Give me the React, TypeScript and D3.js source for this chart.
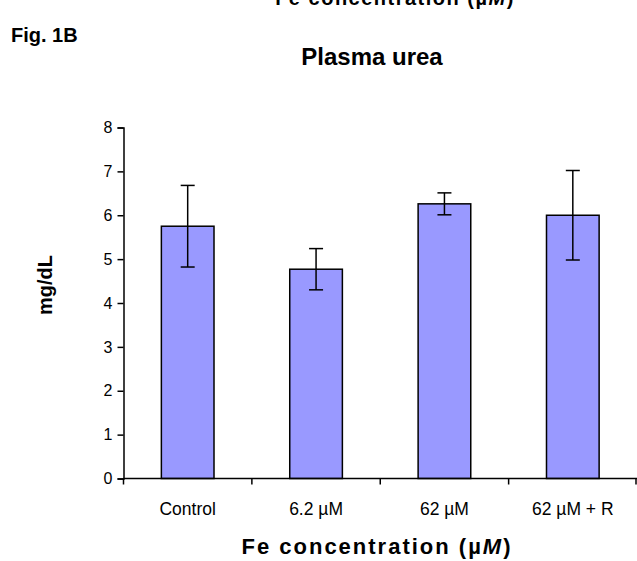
import React, { useEffect, useRef } from "react";
import * as d3 from "d3";

const categories = ["Control", "6.2 µM", "62 µM", "62 µM + R"];
const means = [5.75, 4.77, 6.26, 6.0];
const errors = [0.93, 0.47, 0.25, 1.02];
const yTicks = [0, 1, 2, 3, 4, 5, 6, 7, 8];

const W = 637;
const H = 561;

export default function App() {
  const ref = useRef<SVGSVGElement>(null);

  useEffect(() => {
    const svg = d3.select(ref.current);
    svg.selectAll("*").remove();

    const left = 123.5,
      right = 637,
      top = 127.5,
      bottom = 478.5;

    const x = d3.scaleBand().domain(categories).range([left, right]).paddingInner(0.59).paddingOuter(0.295);
    const xb = d3.scaleBand().domain(categories).range([left, right]);
    const y = d3.scaleLinear().domain([0, 8]).range([bottom, top]);

    const font = "'Liberation Sans', Arial, sans-serif";

    // cut-off label from the panel above
    svg
      .append("text")
      .attr("x", 395)
      .attr("y", 5)
      .attr("text-anchor", "middle")
      .style("font-family", font)
      .style("font-weight", "bold")
      .style("font-size", "20px")
      .style("letter-spacing", "1.5px")
      .html("Fe concentration (µ<tspan font-style='italic'>M</tspan>)");

    svg
      .append("text")
      .attr("x", 11)
      .attr("y", 42)
      .style("font-family", font)
      .style("font-weight", "bold")
      .style("font-size", "20px")
      .text("Fig. 1B");

    svg
      .append("text")
      .attr("x", 372)
      .attr("y", 65)
      .attr("text-anchor", "middle")
      .style("font-family", font)
      .style("font-weight", "bold")
      .style("font-size", "24px")
      .text("Plasma urea");

    // bars
    svg
      .selectAll(".bar")
      .data(means)
      .join("rect")
      .attr("class", "bar")
      .attr("x", (d, i) => x(categories[i])!)
      .attr("y", (d) => y(d))
      .attr("width", x.bandwidth())
      .attr("height", (d) => y(0) - y(d))
      .style("fill", "#9999ff")
      .style("stroke", "#000")
      .style("stroke-width", 1.5);

    // error bars
    const eg = svg.append("g").style("stroke", "#000").style("stroke-width", 1.5);
    means.forEach((m, i) => {
      const cx = x(categories[i])! + x.bandwidth() / 2;
      eg.append("line").attr("x1", cx).attr("x2", cx).attr("y1", y(m - errors[i])).attr("y2", y(m + errors[i]));
      [m - errors[i], m + errors[i]].forEach((v) => {
        eg.append("line").attr("x1", cx - 7).attr("x2", cx + 7).attr("y1", y(v)).attr("y2", y(v));
      });
    });

    // y axis
    const yAxis = svg
      .append("g")
      .attr("transform", `translate(${left},0)`)
      .call(d3.axisLeft(y).tickValues(yTicks).tickSize(6).tickPadding(5));
    yAxis.select(".domain").attr("stroke-width", 1.5);
    yAxis.selectAll(".tick line").attr("stroke-width", 1.5);
    yAxis.selectAll("text").style("font-family", font).style("font-size", "16px").attr("fill", "#000");

    // x axis
    const xAxisG = svg.append("g").attr("transform", `translate(0,${bottom})`);
    xAxisG
      .append("line")
      .attr("x1", left)
      .attr("x2", right)
      .attr("stroke", "#000")
      .attr("stroke-width", 1.5);
    const bounds = categories.map((c) => xb(c)!).concat([right - 1]);
    xAxisG
      .selectAll(".xt")
      .data(bounds)
      .join("line")
      .attr("x1", (d) => d)
      .attr("x2", (d) => d)
      .attr("y1", 0)
      .attr("y2", 6)
      .attr("stroke", "#000")
      .attr("stroke-width", 1.5);
    xAxisG
      .selectAll(".xl")
      .data(categories)
      .join("text")
      .attr("x", (d) => xb(d)! + xb.bandwidth() / 2)
      .attr("y", 36)
      .attr("text-anchor", "middle")
      .style("font-family", font)
      .style("font-size", "17.5px")
      .text((d) => d);

    // axis titles
    svg
      .append("text")
      .attr("transform", `translate(52,285) rotate(-90)`)
      .attr("text-anchor", "middle")
      .style("font-family", font)
      .style("font-weight", "bold")
      .style("font-size", "20px")
      .text("mg/dL");

    svg
      .append("text")
      .attr("x", 377)
      .attr("y", 554)
      .attr("text-anchor", "middle")
      .style("font-family", font)
      .style("font-weight", "bold")
      .style("font-size", "22px")
      .style("letter-spacing", "2px")
      .html("Fe concentration (µ<tspan font-style='italic'>M</tspan>)");
  }, []);

  return (
    <svg
      ref={ref}
      width={W}
      height={H}
      style={{ position: "absolute", left: 0, top: 0, background: "#fff" }}
    ></svg>
  );
}
